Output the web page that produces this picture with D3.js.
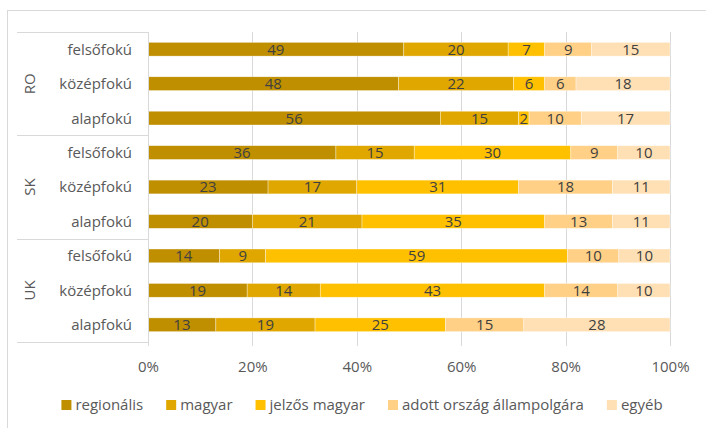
<!DOCTYPE html>
<html lang="hu">
<head>
<meta charset="UTF-8">
<title>Stacked bars</title>
<script src="https://cdn.jsdelivr.net/npm/d3@7"></script>
<style>
  body { margin: 0; background: #fff; }
  text { font-family: "Open Sans", sans-serif; }
</style>
</head>
<body>
<div class="chart"></div>
<script>
  const groups = ['RO', 'SK', 'UK'];
  const levels = ['felsőfokú', 'középfokú', 'alapfokú'];
  const seriesNames = ['regionális', 'magyar', 'jelzős magyar', 'adott ország állampolgára', 'egyéb'];
  const colors = ['#bf8f00', '#dfa700', '#ffc000', '#ffd086', '#ffe0b4'];
  // one array per series, rows in order RO felső, RO közép, RO alap, SK ..., UK ...
  const regionalis   = [49, 48, 56, 36, 23, 20, 14, 19, 13];
  const magyar       = [20, 22, 15, 15, 17, 21,  9, 14, 19];
  const jelzosMagyar = [ 7,  6,  2, 30, 31, 35, 59, 43, 25];
  const allampolgar  = [ 9,  6, 10,  9, 18, 13, 10, 14, 15];
  const egyeb        = [15, 18, 17, 10, 11, 11, 10, 10, 28];
  const xTicks = [0, 20, 40, 60, 80, 100];

  const W = 706, H = 428;
  const plot = { left: 148, right: 670, top: 32, bottom: 342 };
  const fs = '15px';

  const rows = [];
  groups.forEach(g => levels.forEach(l => rows.push({ key: g + '|' + l, group: g, level: l })));
  const allSeries = [regionalis, magyar, jelzosMagyar, allampolgar, egyeb];
  // 100% stacked: positions are shares of the row total, labels keep the read values
  const table = rows.map((r, i) => {
    const o = { key: r.key };
    const total = d3.sum(allSeries, s => s[i]);
    seriesNames.forEach((s, j) => { o[s] = allSeries[j][i] / total * 100; o[s + '_v'] = allSeries[j][i]; });
    return o;
  });

  const svg = d3.select('.chart').append('svg').attr('width', W).attr('height', H);

  // outer frame
  svg.append('rect').attr('x', 7.5).attr('y', 10.5).attr('width', 700).attr('height', 430)
    .attr('fill', 'none').attr('stroke', '#d9d9d9');

  const x = d3.scaleLinear().domain([0, 100]).range([plot.left, plot.right]);
  const y = d3.scaleBand().domain(rows.map(r => r.key)).range([plot.top, plot.bottom])
    .paddingInner(0.6).paddingOuter(0.3);

  // gridlines
  svg.append('g').selectAll('line').data(xTicks).join('line')
    .attr('x1', d => Math.round(x(d)) + 0.5).attr('x2', d => Math.round(x(d)) + 0.5)
    .attr('y1', plot.top).attr('y2', plot.bottom + 4)
    .attr('stroke', '#d9d9d9');

  // group separators for the category panel
  const groupEdges = [plot.top];
  groups.forEach((g, i) => groupEdges.push(plot.top + (plot.bottom - plot.top) * (i + 1) / groups.length));
  svg.append('g').selectAll('line').data(groupEdges).join('line')
    .attr('x1', 17).attr('x2', plot.left)
    .attr('y1', d => Math.round(d) + 0.5).attr('y2', d => Math.round(d) + 0.5)
    .attr('stroke', '#d9d9d9');

  // stacked bars
  const stack = d3.stack().keys(seriesNames)(table);
  const layer = svg.append('g').selectAll('g').data(stack).join('g')
    .attr('fill', (d, i) => colors[i]);
  layer.selectAll('rect').data(d => d).join('rect')
    .attr('x', d => x(d[0])).attr('width', d => x(d[1]) - x(d[0]))
    .attr('y', d => y(d.data.key)).attr('height', y.bandwidth())
    .attr('stroke', '#fff').attr('stroke-width', 0.6).attr('stroke-opacity', 0.6);
  layer.selectAll('text').data(function(d) { return d.map(p => Object.assign(p, { name: d.key })); }).join('text')
    .attr('x', d => (x(d[0]) + x(d[1])) / 2)
    .attr('y', d => y(d.data.key) + y.bandwidth() / 2)
    .attr('dy', '0.36em').attr('text-anchor', 'middle')
    .attr('fill', '#404040').style('font-size', fs)
    .text(d => d.data[d.name + '_v']);

  // axis line at 0
  svg.append('line').attr('x1', plot.left + 0.5).attr('x2', plot.left + 0.5)
    .attr('y1', plot.top).attr('y2', plot.bottom).attr('stroke', '#d9d9d9');

  // category labels
  svg.append('g').selectAll('text').data(rows).join('text')
    .attr('x', 132).attr('y', d => y(d.key) + y.bandwidth() / 2).attr('dy', '0.36em')
    .attr('text-anchor', 'end').attr('fill', '#595959').style('font-size', fs)
    .text(d => d.level);

  // group labels
  svg.append('g').selectAll('text').data(groups).join('text')
    .attr('transform', (g, i) => {
      const cy = plot.top + (plot.bottom - plot.top) * (i + 0.5) / groups.length;
      return `translate(30 ${cy}) rotate(-90)`;
    })
    .attr('dy', '0.36em').attr('text-anchor', 'middle')
    .attr('fill', '#595959').style('font-size', fs)
    .text(d => d);

  // x axis labels
  const xAxis = d3.axisBottom(x).tickValues(xTicks).tickFormat(d => d + '%').tickSize(0).tickPadding(0);
  const gx = svg.append('g').attr('transform', `translate(0 ${plot.bottom + 25})`).call(xAxis);
  gx.select('.domain').remove();
  gx.selectAll('text').attr('dy', '0.36em').attr('fill', '#595959').style('font-size', fs)
    .style('font-family', '"Open Sans", sans-serif');

  // legend
  const legend = svg.append('g');
  let lx = 0;
  seriesNames.forEach((s, i) => {
    const item = legend.append('g').attr('transform', `translate(${lx} 0)`);
    item.append('rect').attr('x', 0).attr('y', -5).attr('width', 10).attr('height', 10).attr('fill', colors[i]);
    const t = item.append('text').attr('x', 14).attr('dy', '0.36em')
      .attr('fill', '#595959').style('font-size', fs).text(s);
    lx += 14 + t.node().getComputedTextLength() + 23;
  });
  const legendW = lx - 23;
  legend.attr('transform', `translate(${362 - legendW / 2} 405)`);
</script>
</body>
</html>
